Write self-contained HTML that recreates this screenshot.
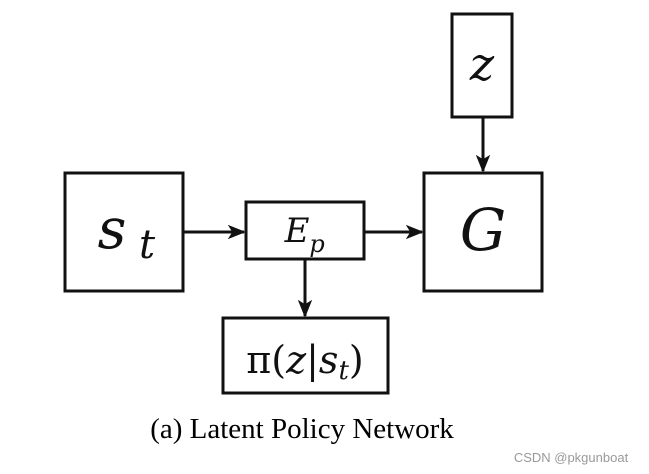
<!DOCTYPE html>
<html><head><meta charset="utf-8"><style>
html,body{margin:0;padding:0;background:#fff;width:649px;height:474px;overflow:hidden}
</style></head><body>
<svg width="649" height="474" viewBox="0 0 649 474" xmlns="http://www.w3.org/2000/svg">
<defs><marker id="a" markerWidth="10" markerHeight="10" refX="9" refY="5" orient="auto" markerUnits="userSpaceOnUse"><path d="M0,0 L10,5 L0,10 L3,5 Z" fill="#111"/></marker>
<marker id="b" viewBox="0 0 20 20" markerWidth="18" markerHeight="18" refX="18" refY="10" orient="auto" markerUnits="userSpaceOnUse"><path d="M0,2 L20,10 L0,18 L5,10 Z" fill="#111"/></marker></defs>
<g fill="none" stroke="#111" stroke-width="3">
<rect x="65" y="173" width="118" height="118"/>
<rect x="246" y="202" width="118" height="57"/>
<rect x="424" y="173" width="118" height="118"/>
<rect x="452" y="14" width="60" height="103"/>
<rect x="223" y="318" width="165" height="75"/>
<line x1="184" y1="232" x2="244" y2="232" marker-end="url(#b)"/>
<line x1="365" y1="232" x2="422" y2="232" marker-end="url(#b)"/>
<line x1="483" y1="117" x2="483" y2="171" marker-end="url(#b)"/>
<line x1="305" y1="259" x2="305" y2="316" marker-end="url(#b)"/>
</g>
<g font-family="'DejaVu Serif','Liberation Serif',serif" font-style="italic" fill="#111" text-anchor="middle">
<text x="112" y="248" font-size="56">s</text><text x="147" y="258" font-size="40">t</text>
<text x="297" y="242" font-size="34">E</text><text x="317" y="252" font-size="24">p</text>
<text x="483" y="250" font-size="58">G</text>
<text x="482" y="80" font-size="46">z</text>
<text x="305" y="373" font-size="38" font-style="normal">π(<tspan font-style="italic">z</tspan>|<tspan font-style="italic">s</tspan><tspan font-style="italic" font-size="26" dy="6">t</tspan><tspan dy="-6">)</tspan></text>
</g>
<text x="302" y="438" font-family="'Liberation Serif',serif" font-size="29" text-anchor="middle" fill="#000">(a) Latent Policy Network</text>
<text x="571" y="462" font-family="'Liberation Sans',sans-serif" font-size="13" text-anchor="middle" fill="#999">CSDN @pkgunboat</text>
</svg>
</body></html>
